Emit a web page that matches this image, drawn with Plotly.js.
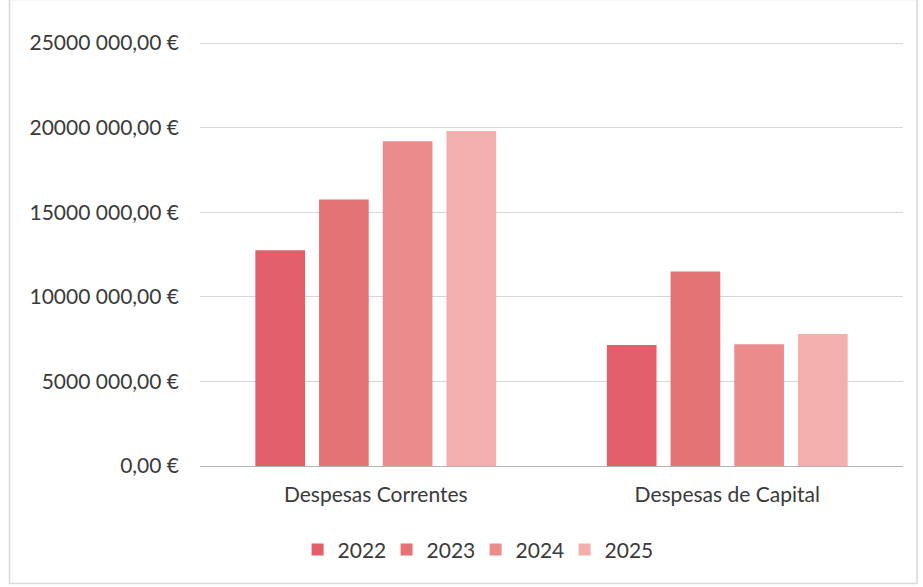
<!DOCTYPE html>
<html><head><meta charset="utf-8">
<script src="https://cdn.plot.ly/plotly-3.0.1.min.js"></script>
<style>html,body{margin:0;padding:0;background:#fff;}</style>
</head><body>
<div id="chart" style="width:923px;height:587px;"></div>
<script>
const categories = ["Despesas Correntes", "Despesas de Capital"];
const years = ["2022", "2023", "2024", "2025"];
const values2022 = [12750000, 7150000];
const values2023 = [15750000, 11500000];
const values2024 = [19200000, 7200000];
const values2025 = [19800000, 7800000];
const colors = ["#e05f69", "#e57274", "#ec8b8b", "#f2afab"];
const tickVals = [0, 5000000, 10000000, 15000000, 20000000, 25000000];
const tickText = ["0,00 €", "5000 000,00 €", "10000 000,00 €", "15000 000,00 €", "20000 000,00 €", "25000 000,00 €"];

const series = [values2022, values2023, values2024, values2025];
const data = series.map((v, i) => ({
  type: 'bar', name: years[i], x: categories, y: v,
  marker: {color: colors[i]}, hoverinfo: 'y'
}));

const layout = {
  width: 923, height: 587,
  margin: {l: 200, r: 20, t: 42, b: 121},
  paper_bgcolor: '#fff', plot_bgcolor: '#fff',
  barmode: 'group', bargap: 0.275, bargroupgap: 0.22,
  font: {family: 'Lato, "Open Sans", sans-serif', color: '#3a3a3a'},
  xaxis: {showgrid: false, showline: false, ticks: '', tickfont: {size: 21, color: '#3a3a3a'}, ticklabelstandoff: 14},
  yaxis: {range: [0, 25060000], tickvals: tickVals, ticktext: tickText, showgrid: true,
          gridcolor: '#d6d6d6', gridwidth: 1, zeroline: true, zerolinecolor: '#b5b5b5', zerolinewidth: 1,
          showline: false, tickfont: {size: 21, color: '#3a3a3a'}, ticks: '', ticklabelstandoff: 20},
  showlegend: true,
  legend: {orientation: 'h', x: 0.392, xanchor: 'center', y: -0.198, yanchor: 'middle',
           font: {size: 21, color: '#3a3a3a'}, itemwidth: 30, traceorder: 'normal',
           entrywidth: 44, entrywidthmode: 'pixels'},
  shapes: [{type: 'rect', xref: 'paper', yref: 'paper', x0: -0.271, x1: 1.02, y0: -0.277, y1: 1.1,
            line: {color: '#d9d9d9', width: 1.5}}]
};
Plotly.newPlot('chart', data, layout, {displayModeBar: false, staticPlot: true});
</script>
</body></html>
